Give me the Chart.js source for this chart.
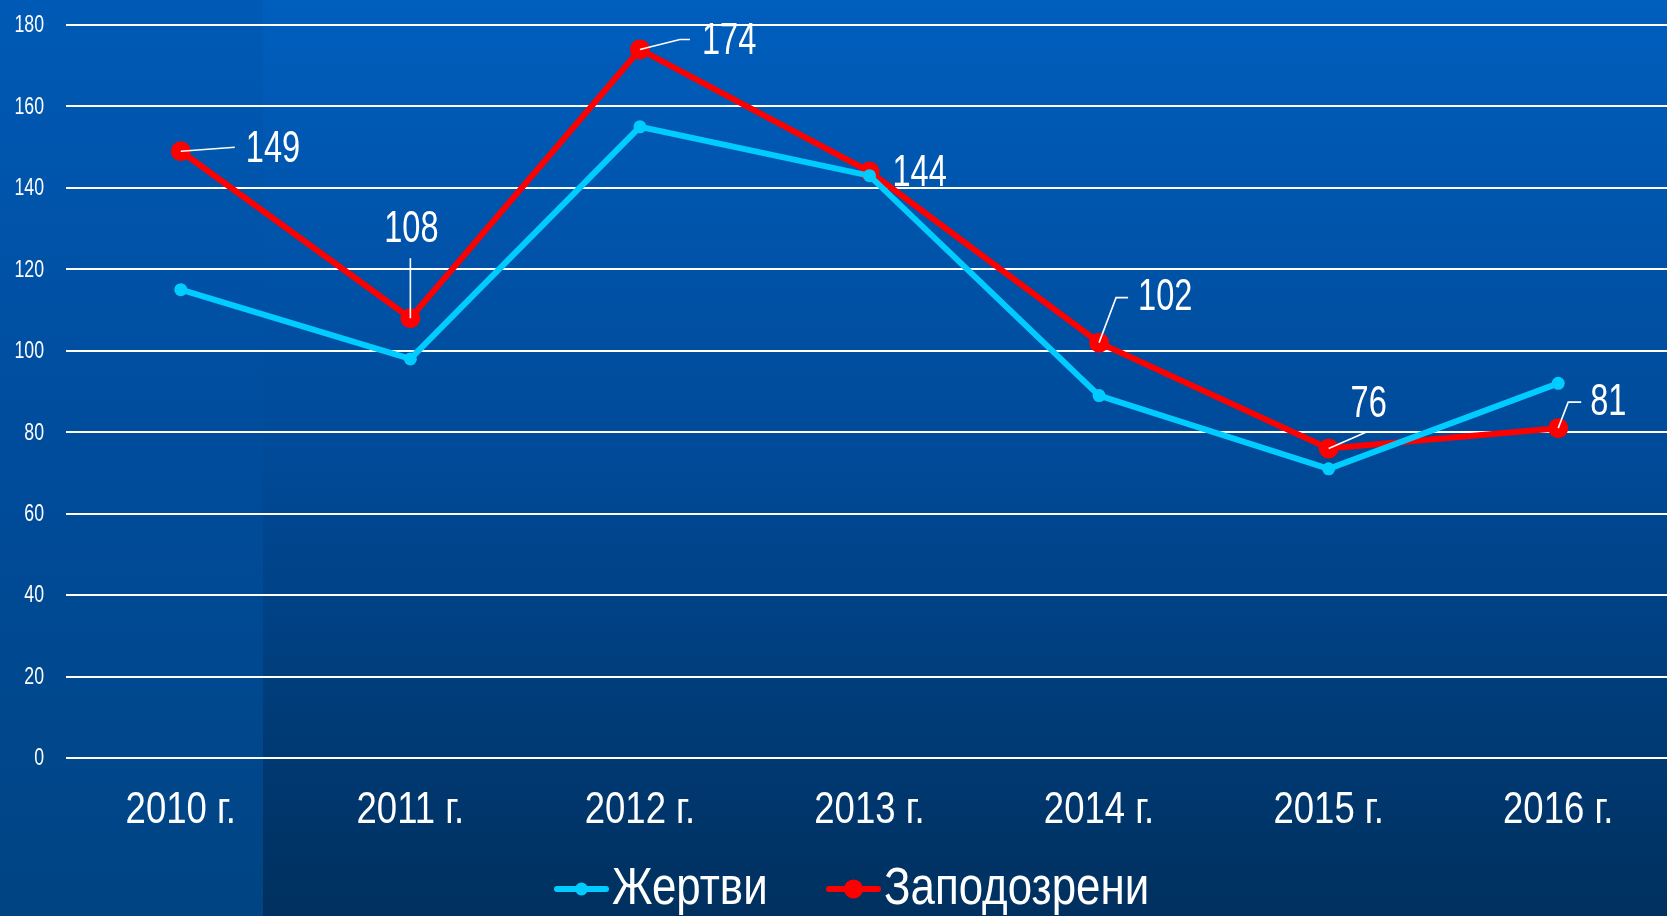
<!DOCTYPE html>
<html>
<head>
<meta charset="utf-8">
<script src="https://cdn.jsdelivr.net/npm/chart.js@4"></script>
<style>
html,body{margin:0;padding:0;background:#00315f;overflow:hidden;}
#wrap{width:1667px;height:916px;position:relative;}
canvas{display:block;}
</style>
</head>
<body>
<div id="wrap"><canvas id="c" width="1667" height="916"></canvas></div>
<script>
const categories = ['2010 г.', '2011 г.', '2012 г.', '2013 г.', '2014 г.', '2015 г.', '2016 г.'];
const victims = [115, 98, 155, 143, 89, 71, 92];
const suspects = [149, 108, 174, 144, 102, 76, 81];
const seriesNames = ['Жертви', 'Заподозрени'];
const yTicks = [0, 20, 40, 60, 80, 100, 120, 140, 160, 180];

const FONT = "'Liberation Sans', Arial, sans-serif";

// draw horizontally condensed text (emulates a narrow typeface)
function narrowText(ctx, text, x, y, size, sx, align) {
  ctx.save();
  ctx.translate(x, y);
  ctx.scale(sx, 1);
  ctx.font = size + 'px ' + FONT;
  ctx.fillStyle = '#ffffff';
  ctx.textAlign = align;
  ctx.textBaseline = 'middle';
  ctx.fillText(text, 0, 0);
  ctx.restore();
}

const bgPlugin = {
  id: 'bg',
  beforeDraw(chart) {
    const ctx = chart.ctx, W = chart.width, H = chart.height;
    ctx.save();
    let g = ctx.createLinearGradient(0, 0, 0, H);
    g.addColorStop(0, '#005ebd');
    g.addColorStop(0.5, '#004a98');
    g.addColorStop(1, '#00305e');
    ctx.fillStyle = g;
    ctx.fillRect(0, 0, W, H);
    g = ctx.createLinearGradient(0, 0, 0, H);
    g.addColorStop(0, '#005ab5');
    g.addColorStop(0.5, '#004c9c');
    g.addColorStop(1, '#004482');
    ctx.fillStyle = g;
    ctx.fillRect(0, 0, 263, H);
    ctx.restore();
  }
};

// the plot area of the original runs a few pixels past the right edge
const extendPlot = {
  id: 'extendPlot',
  afterLayout(chart) {
    const xs = chart.scales.x;
    xs.right = xs.right + 6;
    xs.width = xs.right - xs.left;
    xs.configure();
  }
};

const axisTextPlugin = {
  id: 'axisText',
  afterDraw(chart) {
    const ctx = chart.ctx;
    const ys = chart.scales.y, xs = chart.scales.x;
    yTicks.forEach(v => {
      narrowText(ctx, String(v), 44, ys.getPixelForValue(v) + 1, 23, 0.77, 'right');
    });
    categories.forEach((c, i) => {
      narrowText(ctx, c, xs.getPixelForValue(i), 811, 44, 0.83, 'center');
    });
  }
};

// label placement: text anchor offset (dx,dy) and leader polyline points relative to data point
const labelLayout = [
  {dx: 65, dy: -2, align: 'left', leader: [[0,0],[54,-4]]},
  {dx: 1, dy: -89, align: 'center', leader: [[0,0],[0,-60]]},
  {dx: 62, dy: -9, align: 'left', leader: [[0,0],[40,-10],[50,-10]]},
  {dx: 23, dy: 1, align: 'left', leader: null},
  {dx: 39, dy: -46, align: 'left', leader: [[0,0],[17,-45],[29,-45]]},
  {dx: 40, dy: -45, align: 'center', leader: [[0,0],[39,-17]]},
  {dx: 32, dy: -26, align: 'left', leader: [[0,0],[10,-26],[23,-26]]}
];

const labelsPlugin = {
  id: 'dlabels',
  afterDatasetsDraw(chart) {
    const ctx = chart.ctx;
    const meta = chart.getDatasetMeta(1);
    meta.data.forEach((pt, i) => {
      const L = labelLayout[i];
      const x = pt.x, y = pt.y;
      if (L.leader) {
        ctx.save();
        ctx.strokeStyle = '#ffffff';
        ctx.lineWidth = 1.6;
        ctx.beginPath();
        L.leader.forEach((p, k) => {
          if (k === 0) ctx.moveTo(x + p[0], y + p[1]);
          else ctx.lineTo(x + p[0], y + p[1]);
        });
        ctx.stroke();
        ctx.restore();
      }
      narrowText(ctx, String(suspects[i]), x + L.dx, y + L.dy + 1, 44, 0.74, L.align);
    });
  }
};

const legendPlugin = {
  id: 'customLegend',
  afterDraw(chart) {
    const ctx = chart.ctx;
    const y = 889;
    const items = [
      {x0: 557, x1: 606, r: 6.5, color: '#00ccff', text: seriesNames[0], tx: 612},
      {x0: 829, x1: 878, r: 9.5, color: '#ff0000', text: seriesNames[1], tx: 884}
    ];
    items.forEach(it => {
      ctx.save();
      ctx.strokeStyle = it.color;
      ctx.lineWidth = 6;
      ctx.lineCap = 'round';
      ctx.beginPath();
      ctx.moveTo(it.x0, y);
      ctx.lineTo(it.x1, y);
      ctx.stroke();
      ctx.fillStyle = it.color;
      ctx.beginPath();
      ctx.arc((it.x0 + it.x1) / 2, y, it.r, 0, Math.PI * 2);
      ctx.fill();
      ctx.restore();
      narrowText(ctx, it.text, it.tx, y + 1, 51, 0.86, 'left');
    });
  }
};

new Chart(document.getElementById('c'), {
  type: 'line',
  data: {
    labels: categories,
    datasets: [
      {
        label: seriesNames[0],
        data: victims,
        borderColor: '#00ccff',
        backgroundColor: '#00ccff',
        borderWidth: 6,
        pointRadius: 6.5,
        pointHoverRadius: 6.5,
        pointBorderWidth: 0,
        tension: 0,
        clip: false
      },
      {
        label: seriesNames[1],
        data: suspects,
        borderColor: '#ff0000',
        backgroundColor: '#ff0000',
        borderWidth: 6,
        pointRadius: 10,
        pointHoverRadius: 10,
        pointBorderWidth: 0,
        tension: 0,
        clip: false
      }
    ]
  },
  options: {
    responsive: false,
    animation: false,
    devicePixelRatio: 1,
    layout: {autoPadding: false, padding: {top: 25, right: 0, left: 0, bottom: 0}},
    plugins: {
      legend: {display: false},
      tooltip: {enabled: false}
    },
    scales: {
      x: {
        offset: true,
        grid: {display: false, drawTicks: false},
        border: {display: false},
        ticks: {display: false},
        afterFit(scale) { scale.height = 158; }
      },
      y: {
        min: 0,
        max: 180,
        afterBuildTicks(scale) { scale.ticks = yTicks.map(v => ({value: v})); },
        grid: {color: '#ffffff', lineWidth: 2, drawTicks: false},
        border: {display: false},
        ticks: {display: false},
        afterFit(scale) { scale.width = 66; }
      }
    }
  },
  plugins: [bgPlugin, extendPlot, labelsPlugin, axisTextPlugin, legendPlugin]
});
</script>
</body>
</html>
